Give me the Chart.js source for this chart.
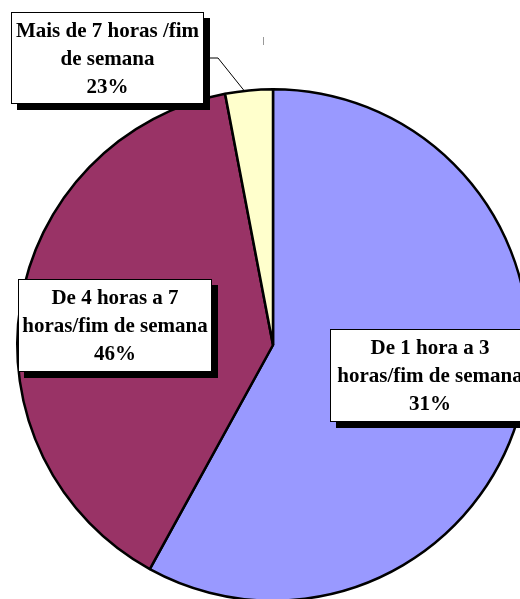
<!DOCTYPE html>
<html>
<head>
<meta charset="utf-8">
<script src="https://cdn.jsdelivr.net/npm/chart.js@4/dist/chart.umd.min.js"></script>
<style>
  html, body { margin: 0; padding: 0; background: #fff; overflow: hidden; width: 520px; height: 599px; }
  #chart { position: absolute; left: 0; top: 0; }
</style>
</head>
<body>
<canvas id="chart" width="600" height="720"></canvas>
<script>
// slice sizes as drawn (share of the circle, in %)
const categories = [
  ['De 1 hora a 3', 'horas/fim de semana'],
  ['De 4 horas a 7', 'horas/fim de semana'],
  ['Mais de 7 horas /fim', 'de semana']
];
const sliceValues = [58, 39, 3];
// percentages printed in the label boxes
const printedPct = ['31%', '46%', '23%'];
const sliceColors = ['#9999FF', '#993366', '#FFFFCC'];

// label box placement (pixels)
const boxes = [
  { x: 330, y: 329, w: 200, h: 93 },
  { x: 18, y: 279, w: 194, h: 93 },
  { x: 11, y: 12, w: 193, h: 92 }
];

const labelBoxes = {
  id: 'labelBoxes',
  afterDatasetsDraw(chart) {
    const ctx = chart.ctx;
    const arcs = chart.getDatasetMeta(0).data;
    ctx.save();

    // leader line for the small slice
    const a = arcs[2];
    const mid = (a.startAngle + a.endAngle) / 2;
    const ex = a.x + Math.cos(mid) * a.outerRadius;
    const ey = a.y + Math.sin(mid) * a.outerRadius;
    ctx.strokeStyle = '#000';
    ctx.lineWidth = 1;
    ctx.beginPath();
    ctx.moveTo(204, 58);
    ctx.lineTo(218, 58);
    ctx.lineTo(ex - 5, ey);
    ctx.stroke();

    // stray tick
    ctx.strokeStyle = '#999';
    ctx.beginPath();
    ctx.moveTo(263.5, 37);
    ctx.lineTo(263.5, 45);
    ctx.stroke();

    categories.forEach((lines, i) => {
      const b = boxes[i];
      ctx.fillStyle = '#000';
      ctx.fillRect(b.x + 6, b.y + 6, b.w, b.h);
      ctx.fillStyle = '#fff';
      ctx.fillRect(b.x, b.y, b.w, b.h);
      ctx.strokeStyle = '#000';
      ctx.lineWidth = 1;
      ctx.strokeRect(b.x + 0.5, b.y + 0.5, b.w - 1, b.h - 1);

      ctx.fillStyle = '#000';
      ctx.font = 'bold 21px "Liberation Serif", "Times New Roman", serif';
      ctx.textAlign = 'center';
      ctx.textBaseline = 'middle';
      const all = lines.concat([printedPct[i]]);
      const cx = b.x + b.w / 2;
      all.forEach((t, k) => {
        ctx.fillText(t, cx, b.y + 20 + k * 28);
      });
    });
    ctx.restore();
  }
};

new Chart(document.getElementById('chart'), {
  type: 'pie',
  data: {
    labels: categories.map(l => l.join(' ')),
    datasets: [{
      data: sliceValues,
      backgroundColor: sliceColors,
      borderColor: '#000',
      borderWidth: 2.5
    }]
  },
  options: {
    responsive: false,
    animation: false,
    devicePixelRatio: 1,
    layout: { padding: { left: 16, right: 70, top: 88, bottom: 118 } },
    plugins: {
      legend: { display: false },
      tooltip: { enabled: false }
    }
  },
  plugins: [labelBoxes]
});
</script>
</body>
</html>
